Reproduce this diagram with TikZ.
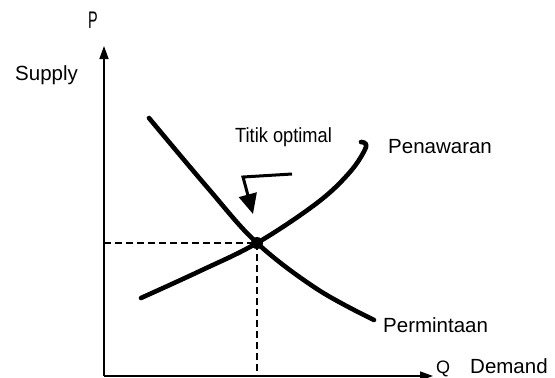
\documentclass[tikz,border=0pt]{standalone}
\usepackage{fontspec}
\usepackage{graphicx}
\setmainfont{Liberation Sans}
\usetikzlibrary{arrows.meta}
\begin{document}
\begin{tikzpicture}[x=1pt,y=-1pt,
  lbl/.style={inner sep=0pt,anchor=base west,font=\fontsize{20.5}{22}\selectfont},
  axis/.style={line width=1.6pt,-{Triangle[length=13pt,width=9pt]}},
  curve/.style={line width=4.6pt,line cap=round,line join=round},
  guide/.style={line width=2.6pt,dash pattern=on 7pt off 4pt}]
\useasboundingbox (0,0) rectangle (555,378);
% axes
\coordinate (O) at (104,376);
\coordinate (ytip) at (104,46);
\coordinate (xtip) at (433,376);
\draw[axis] (O) -- (ytip);
\draw[axis] (O) -- (xtip);
% equilibrium
\coordinate (E) at (257,243);
\coordinate (Ey) at (104,243);
\coordinate (Ex) at (257,376);
\draw[guide] (Ey) -- (E);
\draw[guide] (E) -- (Ex);
% demand curve
\draw[curve] plot[smooth,tension=0.6] coordinates {(149,118) (207,187) (257,243) (317,289) (374,320)};
% supply curve
\draw[curve] plot[smooth,tension=0.6] coordinates {(141,298) (200,271) (257,243) (317,203) (350,172) (366,147) (361,142)};
\fill (E) circle (6pt);
% pointer arrow
\coordinate (pA) at (292,174);
\coordinate (pB) at (243,177);
\coordinate (pC) at (253,214);
\draw[line width=3pt,line join=miter,-{Triangle[length=20pt,width=18pt]}] (pA) -- (pB) -- (pC);
% labels
\node[inner sep=0pt,anchor=base] (P) at (93,28) {\fontsize{24}{26}\selectfont\scalebox{0.6}[1]{P}};
\node[lbl] (supply) at (15,80) {Supply};
\node[lbl] (titik) at (235,142) {\scalebox{0.89}[1]{Titik optimal}};
\node[lbl] (penawaran) at (388,153) {Penawaran};
\node[lbl] (permintaan) at (383,332) {Permintaan};
\node[inner sep=0pt,anchor=base west,font=\fontsize{18}{20}\selectfont] (Q) at (436,373) {Q};
\node[lbl] (demand) at (470,373) {Demand};
\end{tikzpicture}
\end{document}
